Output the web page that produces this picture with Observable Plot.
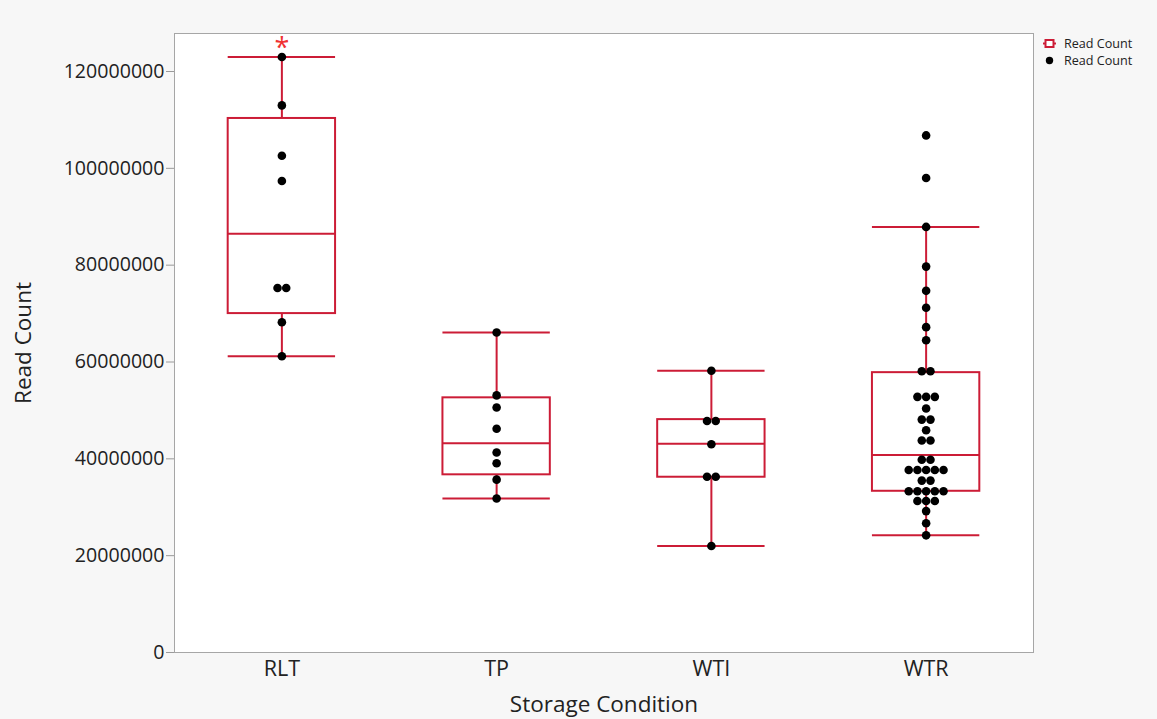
<!DOCTYPE html>
<html><head><meta charset="utf-8">
<script src="https://cdn.jsdelivr.net/npm/d3@7"></script>
<script src="https://cdn.jsdelivr.net/npm/@observablehq/plot@0.6"></script>
<style>
html,body{margin:0;padding:0;background:#ffffff;}
#wrap{position:relative;width:1157px;height:719px;}
#wrap svg{display:block;}
#legend{position:absolute;left:1043px;top:35px;font:12.6px "Open Sans",sans-serif;color:#222;line-height:17px;}
#legend div{display:flex;align-items:center;white-space:nowrap;}
#legend svg{margin-right:8px;}
</style>
</head><body><div id="wrap"><div id="legend"></div></div>
<script>
// ---- data ----
const categories = ["RLT", "TP", "WTI", "WTR"];
const readsRLT = [123000000, 113000000, 102600000, 97400000, 75300000, 75300000, 68200000, 61200000];
const readsTP  = [66100000, 53100000, 50600000, 46200000, 41300000, 39100000, 35700000, 31800000];
const readsWTI = [58200000, 47800000, 47800000, 43000000, 36300000, 36300000, 22000000];
const readsWTR = [106800000, 98000000, 87900000, 79700000, 74700000, 71200000, 67200000, 64500000,
  58100000, 58100000, 52800000, 52800000, 52800000, 50400000, 48100000, 48100000, 45900000,
  43800000, 43800000, 39800000, 39800000, 37700000, 37700000, 37700000, 37700000, 37700000,
  35500000, 35500000, 33300000, 33300000, 33300000, 33300000, 33300000, 31300000, 31300000,
  31300000, 29200000, 26700000, 24200000];
// box-plot summary per category
const whiskerLow  = [61200000, 31800000, 22000000, 24200000];
const quartile1   = [70000000, 36700000, 36200000, 33300000];
const medians     = [86500000, 43200000, 43100000, 40800000];
const quartile3   = [110300000, 52600000, 48100000, 57800000];
const whiskerHigh = [123000000, 66100000, 58200000, 87900000];
const flagged = ["RLT"]; // red asterisk marker
const yTicks = [0, 20000000, 40000000, 60000000, 80000000, 100000000, 120000000];
const seriesName = "Read Count";

// ---- build tables ----
const red = "#cc1c36";
const allReads = [readsRLT, readsTP, readsWTI, readsWTR];
const halfBox = 0.25;
const dotStep = 0.0405;
const points = [];
allReads.forEach((vals, i) => {
  const groups = d3.group(vals, v => v);
  for (const [v, arr] of groups) {
    arr.forEach((_, j) => points.push({i, cat: categories[i], value: v, x: i + (j - (arr.length - 1) / 2) * dotStep}));
  }
});
const boxes = categories.map((c, i) => ({i, cat: c, lo: whiskerLow[i], q1: quartile1[i], med: medians[i], q3: quartile3[i], hi: whiskerHigh[i]}));
const stars = boxes.filter(b => flagged.includes(b.cat));

const font = '"Open Sans", sans-serif';
const chart = Plot.plot({
  width: 1157, height: 719,
  marginTop: 33, marginRight: 124, marginBottom: 67, marginLeft: 174,
  style: {background: "#f7f7f7", fontFamily: font, color: "#222", overflow: "visible"},
  x: {domain: [-0.5, 3.5]},
  y: {domain: [0, 127850000]},
  marks: [
    Plot.frame({fill: "white"}),
    Plot.axisY({ticks: yTicks, tickFormat: d3.format("d"), tickSize: 8, tickPadding: 2, fontSize: 19.6,
      stroke: "#9a9a9a", label: null}),
    Plot.axisY({ticks: [], tickSize: 0, fontSize: 22.5,
      label: seriesName, labelAnchor: "center", labelArrow: "none", labelOffset: 159}),
    Plot.axisX({ticks: d3.range(categories.length), tickFormat: i => categories[i], tickSize: 0, tickPadding: 8, fontSize: 21.5,
      label: null}),
    Plot.axisX({ticks: [], tickSize: 0, fontSize: 22.5,
      label: "Storage Condition", labelAnchor: "center", labelArrow: "none", labelOffset: 59}),
    Plot.ruleX(boxes, {x: "i", y1: "lo", y2: "q1", stroke: red, strokeWidth: 2}),
    Plot.ruleX(boxes, {x: "i", y1: "q3", y2: "hi", stroke: red, strokeWidth: 2}),
    Plot.ruleY(boxes, {y: "lo", x1: d => d.i - halfBox, x2: d => d.i + halfBox, stroke: red, strokeWidth: 2}),
    Plot.ruleY(boxes, {y: "hi", x1: d => d.i - halfBox, x2: d => d.i + halfBox, stroke: red, strokeWidth: 2}),
    Plot.rect(boxes, {x1: d => d.i - halfBox, x2: d => d.i + halfBox, y1: "q1", y2: "q3", fill: "none", stroke: red, strokeWidth: 2}),
    Plot.ruleY(boxes, {y: "med", x1: d => d.i - halfBox, x2: d => d.i + halfBox, stroke: red, strokeWidth: 2}),
    Plot.dot(points, {x: "x", y: "value", r: 4.3, fill: "black", stroke: "none"}),
    Plot.text(stars, {x: "i", y: "hi", text: () => "*", dy: -9, fill: "#f03232", fontSize: 27, fontWeight: "normal"}),
    Plot.frame({stroke: "#a6a6a6"})
  ]
});
const wrap = document.getElementById("wrap");
wrap.insertBefore(chart, wrap.firstChild);

// legend
const legend = document.getElementById("legend");
legend.innerHTML =
  `<div><svg width="13" height="11"><line x1="0" y1="5.5" x2="13" y2="5.5" stroke="${red}" stroke-width="2"/><rect x="2.5" y="2" width="8" height="7" fill="white" stroke="${red}" stroke-width="2"/></svg>${seriesName}</div>` +
  `<div><svg width="13" height="11"><circle cx="6.5" cy="5.5" r="3.7" fill="black"/></svg>${seriesName}</div>`;
</script>
</body></html>
